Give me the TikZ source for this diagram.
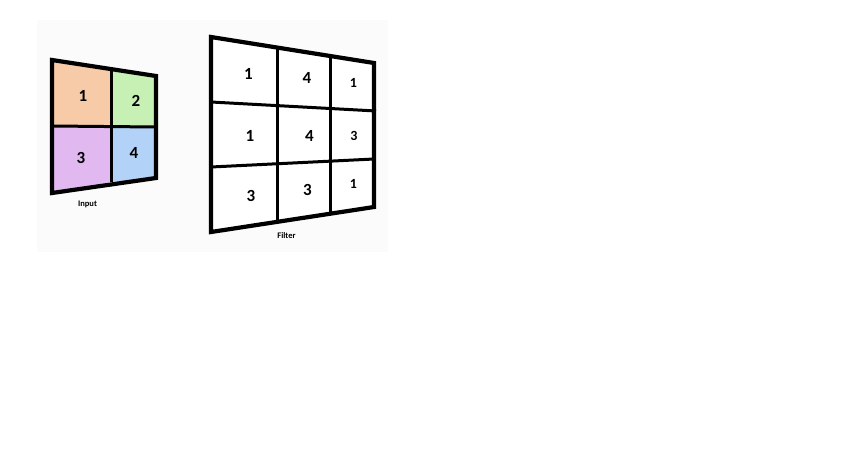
\documentclass[tikz,border=0pt]{standalone}
\usepackage{fontspec}
\setmainfont{Carlito}
\definecolor{bgpaper}{HTML}{FBFBFB}
\definecolor{cellA}{HTML}{F8CBA8}
\definecolor{cellB}{HTML}{C6F0B4}
\definecolor{cellC}{HTML}{E2B8F0}
\definecolor{cellD}{HTML}{B2D2F8}
\begin{document}
\begin{tikzpicture}[x=1pt,y=-1pt,
  outer/.style={line width=4.2pt,line join=miter},
  inner/.style={line width=3pt},
  num/.style={font=\bfseries\fontsize{17}{17}\selectfont,inner sep=0pt},
  numsm/.style={font=\bfseries\fontsize{14}{14}\selectfont,inner sep=0pt},
  lab/.style={font=\bfseries\fontsize{8.5}{8.5}\selectfont,inner sep=0pt}]
\useasboundingbox (0,0) rectangle (853,455);
\fill[bgpaper] (37,20) rectangle (388,252);
% ---------- Input grid ----------
\coordinate (iTL) at (52,60);
\coordinate (iTR) at (156,76);
\coordinate (iBR) at (156,178);
\coordinate (iBL) at (52,193);
\coordinate (iT) at (111,69);
\coordinate (iB) at (111,182);
\coordinate (iL) at (52,126);
\coordinate (iR) at (156,127);
\coordinate (iC) at (111,126.5);
\fill[cellA] (iTL) -- (iT) -- (iC) -- (iL) -- cycle;
\fill[cellB] (iT) -- (iTR) -- (iR) -- (iC) -- cycle;
\fill[cellC] (iL) -- (iC) -- (iB) -- (iBL) -- cycle;
\fill[cellD] (iC) -- (iR) -- (iBR) -- (iB) -- cycle;
\draw[inner] (iT) -- (iB);
\draw[inner] (iL) -- (iR);
\draw[outer] (iTL) -- (iTR) -- (iBR) -- (iBL) -- cycle;
\node[num] (in1) at (83,96) {1};
\node[num] (in2) at (136,101) {2};
\node[num] (in3) at (81,158) {3};
\node[num] (in4) at (134,153) {4};
\node[lab] (inlab) at (87.5,204.5) {Input};
% ---------- Filter grid ----------
\coordinate (fTL) at (211,37);
\coordinate (fTR) at (374,63);
\coordinate (fBR) at (374,207);
\coordinate (fBL) at (211,232);
\coordinate (fV1t) at (277,47.5);
\coordinate (fV1b) at (277,220);
\coordinate (fV2t) at (330,56);
\coordinate (fV2b) at (330,212);
\coordinate (fH1l) at (211,102);
\coordinate (fH1r) at (376,111);
\coordinate (fH2l) at (211,167);
\coordinate (fH2r) at (374,159);
\fill[white] (fTL) -- (fTR) -- (fBR) -- (fBL) -- cycle;
\draw[inner] (fV1t) -- (fV1b);
\draw[inner] (fV2t) -- (fV2b);
\draw[inner] (fH1l) -- (fH1r);
\draw[inner] (fH2l) -- (fH2r);
\draw[outer] (fTL) -- (fTR) -- (fBR) -- (fBL) -- cycle;
\node[num] (f11) at (248.5,73.5) {1};
\node[num] (f12) at (307,78) {4};
\node[numsm] (f13) at (353.5,82.5) {1};
\node[num] (f21) at (250,135.5) {1};
\node[num] (f22) at (309.5,135.5) {4};
\node[numsm] (f23) at (354,135.5) {3};
\node[num] (f31) at (251,195.5) {3};
\node[num] (f32) at (307.5,189.5) {3};
\node[numsm] (f33) at (353.5,184) {1};
\node[lab] (flab) at (286.5,236) {Filter};
\end{tikzpicture}
\end{document}
